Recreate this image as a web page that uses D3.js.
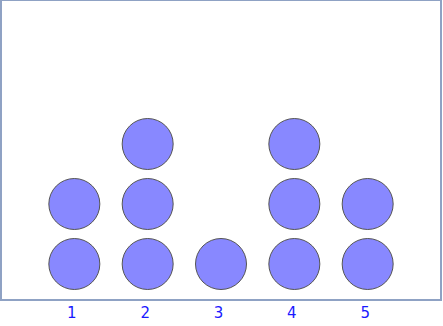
<!DOCTYPE html>
<html>
<head>
<meta charset="utf-8">
<script src="https://cdn.jsdelivr.net/npm/d3@7"></script>
<style>
  body { margin: 0; background: #fff; }
  svg { display: block; }
</style>
</head>
<body>
<svg id="chart" width="443" height="326"></svg>
<script>
// dot plot data: one value per category, number of stacked dots
const categories = [1, 2, 3, 4, 5]
const counts = [2, 3, 1, 3, 2]

const svg = d3.select('#chart')

// frame of the plot area
const frameLeft = 1, frameRight = 441, frameTop = 0, frameBottom = 300

const x = d3.scaleLinear().domain([0, 6]).range([frameLeft, frameRight])
const y = d3.scaleLinear().domain([0, 5]).range([frameBottom, frameTop]) // 60px per dot

// expand counts into one record per dot
const dots = []
categories.forEach((c, i) => {
  for (let k = 0; k < counts[i]; k++) dots.push({cat: c, level: k})
})

svg.append('rect')
  .attr('x', frameLeft).attr('y', frameTop)
  .attr('width', frameRight - frameLeft).attr('height', frameBottom - frameTop)
  .attr('fill', 'none')
  .attr('stroke', '#8fa2c4')
  .attr('stroke-width', 2)

svg.selectAll('circle').data(dots).enter().append('circle')
  .attr('cx', d => x(d.cat))
  .attr('cy', d => y(d.level + 0.6))
  .attr('r', 25.5)
  .attr('fill', '#8888ff')
  .attr('stroke', '#555')
  .attr('stroke-width', 1)

// tick labels below the frame
svg.selectAll('text.tick').data(categories).enter().append('text')
  .attr('class', 'tick')
  .attr('x', d => x(d) - 2.5)
  .attr('y', 318)
  .attr('text-anchor', 'middle')
  .attr('font-family', 'DejaVu Sans, Verdana, sans-serif')
  .attr('font-size', 15)
  .attr('fill', '#1a1aff')
  .text(d => d)
</script>
</body>
</html>
